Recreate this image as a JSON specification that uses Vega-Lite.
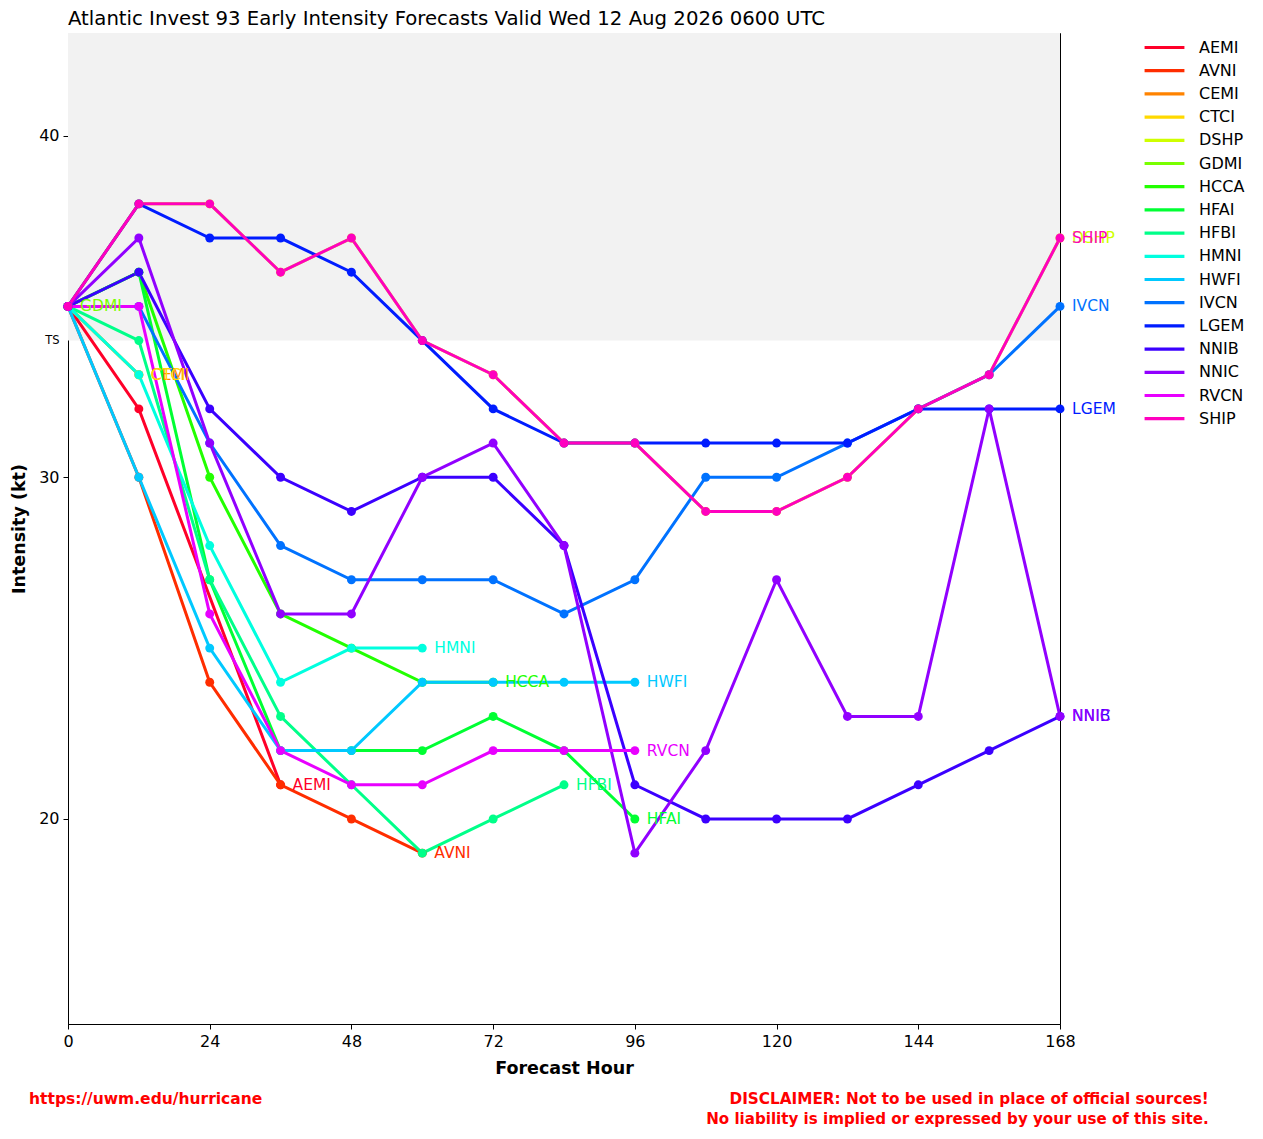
{
  "$schema": "https://vega.github.io/schema/vega-lite/v6.json",
  "width": 992,
  "height": 991,
  "autosize": "none",
  "padding": {"left": 68, "top": 33, "right": 203, "bottom": 115},
  "background": "white",
  "config": {
    "font": "DejaVu Sans",
    "view": {"stroke": "black", "strokeWidth": 1}
  },
  "title": {
    "text": "Atlantic Invest 93 Early Intensity Forecasts Valid Wed 12 Aug 2026 0600 UTC",
    "anchor": "start",
    "frame": "group",
    "fontSize": 19.7,
    "fontWeight": "normal",
    "color": "black",
    "offset": 4
  },
  "datasets": {
    "fcst": [
      {"model": "AEMI", "hour": 0, "kt": 35}, {"model": "AEMI", "hour": 12, "kt": 32}, {"model": "AEMI", "hour": 36, "kt": 21},
      {"model": "AVNI", "hour": 0, "kt": 35}, {"model": "AVNI", "hour": 12, "kt": 30}, {"model": "AVNI", "hour": 24, "kt": 24},
      {"model": "AVNI", "hour": 36, "kt": 21}, {"model": "AVNI", "hour": 48, "kt": 20}, {"model": "AVNI", "hour": 60, "kt": 19},
      {"model": "CEMI", "hour": 0, "kt": 35}, {"model": "CEMI", "hour": 12, "kt": 33},
      {"model": "CTCI", "hour": 0, "kt": 35}, {"model": "CTCI", "hour": 12, "kt": 33},
      {"model": "DSHP", "hour": 0, "kt": 35}, {"model": "DSHP", "hour": 12, "kt": 38}, {"model": "DSHP", "hour": 24, "kt": 38},
      {"model": "DSHP", "hour": 36, "kt": 36}, {"model": "DSHP", "hour": 48, "kt": 37}, {"model": "DSHP", "hour": 60, "kt": 34},
      {"model": "DSHP", "hour": 72, "kt": 33}, {"model": "DSHP", "hour": 84, "kt": 31}, {"model": "DSHP", "hour": 96, "kt": 31},
      {"model": "DSHP", "hour": 108, "kt": 29}, {"model": "DSHP", "hour": 120, "kt": 29}, {"model": "DSHP", "hour": 132, "kt": 30},
      {"model": "DSHP", "hour": 144, "kt": 32}, {"model": "DSHP", "hour": 156, "kt": 33}, {"model": "DSHP", "hour": 168, "kt": 37},
      {"model": "GDMI", "hour": 0, "kt": 35},
      {"model": "HCCA", "hour": 0, "kt": 35}, {"model": "HCCA", "hour": 12, "kt": 36}, {"model": "HCCA", "hour": 24, "kt": 30},
      {"model": "HCCA", "hour": 36, "kt": 26}, {"model": "HCCA", "hour": 48, "kt": 25}, {"model": "HCCA", "hour": 60, "kt": 24},
      {"model": "HCCA", "hour": 72, "kt": 24},
      {"model": "HFAI", "hour": 0, "kt": 35}, {"model": "HFAI", "hour": 12, "kt": 36}, {"model": "HFAI", "hour": 24, "kt": 27},
      {"model": "HFAI", "hour": 36, "kt": 22}, {"model": "HFAI", "hour": 48, "kt": 22}, {"model": "HFAI", "hour": 60, "kt": 22},
      {"model": "HFAI", "hour": 72, "kt": 23}, {"model": "HFAI", "hour": 84, "kt": 22}, {"model": "HFAI", "hour": 96, "kt": 20},
      {"model": "HFBI", "hour": 0, "kt": 35}, {"model": "HFBI", "hour": 12, "kt": 34}, {"model": "HFBI", "hour": 24, "kt": 27},
      {"model": "HFBI", "hour": 36, "kt": 23}, {"model": "HFBI", "hour": 48, "kt": 21}, {"model": "HFBI", "hour": 60, "kt": 19},
      {"model": "HFBI", "hour": 72, "kt": 20}, {"model": "HFBI", "hour": 84, "kt": 21},
      {"model": "HMNI", "hour": 0, "kt": 35}, {"model": "HMNI", "hour": 12, "kt": 33}, {"model": "HMNI", "hour": 24, "kt": 28},
      {"model": "HMNI", "hour": 36, "kt": 24}, {"model": "HMNI", "hour": 48, "kt": 25}, {"model": "HMNI", "hour": 60, "kt": 25},
      {"model": "HWFI", "hour": 0, "kt": 35}, {"model": "HWFI", "hour": 12, "kt": 30}, {"model": "HWFI", "hour": 24, "kt": 25},
      {"model": "HWFI", "hour": 36, "kt": 22}, {"model": "HWFI", "hour": 48, "kt": 22}, {"model": "HWFI", "hour": 60, "kt": 24},
      {"model": "HWFI", "hour": 72, "kt": 24}, {"model": "HWFI", "hour": 84, "kt": 24}, {"model": "HWFI", "hour": 96, "kt": 24},
      {"model": "IVCN", "hour": 0, "kt": 35}, {"model": "IVCN", "hour": 12, "kt": 35}, {"model": "IVCN", "hour": 24, "kt": 31},
      {"model": "IVCN", "hour": 36, "kt": 28}, {"model": "IVCN", "hour": 48, "kt": 27}, {"model": "IVCN", "hour": 60, "kt": 27},
      {"model": "IVCN", "hour": 72, "kt": 27}, {"model": "IVCN", "hour": 84, "kt": 26}, {"model": "IVCN", "hour": 96, "kt": 27},
      {"model": "IVCN", "hour": 108, "kt": 30}, {"model": "IVCN", "hour": 120, "kt": 30}, {"model": "IVCN", "hour": 132, "kt": 31},
      {"model": "IVCN", "hour": 144, "kt": 32}, {"model": "IVCN", "hour": 156, "kt": 33}, {"model": "IVCN", "hour": 168, "kt": 35},
      {"model": "LGEM", "hour": 0, "kt": 35}, {"model": "LGEM", "hour": 12, "kt": 38}, {"model": "LGEM", "hour": 24, "kt": 37},
      {"model": "LGEM", "hour": 36, "kt": 37}, {"model": "LGEM", "hour": 48, "kt": 36}, {"model": "LGEM", "hour": 60, "kt": 34},
      {"model": "LGEM", "hour": 72, "kt": 32}, {"model": "LGEM", "hour": 84, "kt": 31}, {"model": "LGEM", "hour": 96, "kt": 31},
      {"model": "LGEM", "hour": 108, "kt": 31}, {"model": "LGEM", "hour": 120, "kt": 31}, {"model": "LGEM", "hour": 132, "kt": 31},
      {"model": "LGEM", "hour": 144, "kt": 32}, {"model": "LGEM", "hour": 156, "kt": 32}, {"model": "LGEM", "hour": 168, "kt": 32},
      {"model": "NNIB", "hour": 0, "kt": 35}, {"model": "NNIB", "hour": 12, "kt": 36}, {"model": "NNIB", "hour": 24, "kt": 32},
      {"model": "NNIB", "hour": 36, "kt": 30}, {"model": "NNIB", "hour": 48, "kt": 29}, {"model": "NNIB", "hour": 60, "kt": 30},
      {"model": "NNIB", "hour": 72, "kt": 30}, {"model": "NNIB", "hour": 84, "kt": 28}, {"model": "NNIB", "hour": 96, "kt": 21},
      {"model": "NNIB", "hour": 108, "kt": 20}, {"model": "NNIB", "hour": 120, "kt": 20}, {"model": "NNIB", "hour": 132, "kt": 20},
      {"model": "NNIB", "hour": 144, "kt": 21}, {"model": "NNIB", "hour": 156, "kt": 22}, {"model": "NNIB", "hour": 168, "kt": 23},
      {"model": "NNIC", "hour": 0, "kt": 35}, {"model": "NNIC", "hour": 12, "kt": 37}, {"model": "NNIC", "hour": 24, "kt": 31},
      {"model": "NNIC", "hour": 36, "kt": 26}, {"model": "NNIC", "hour": 48, "kt": 26}, {"model": "NNIC", "hour": 60, "kt": 30},
      {"model": "NNIC", "hour": 72, "kt": 31}, {"model": "NNIC", "hour": 84, "kt": 28}, {"model": "NNIC", "hour": 96, "kt": 19},
      {"model": "NNIC", "hour": 108, "kt": 22}, {"model": "NNIC", "hour": 120, "kt": 27}, {"model": "NNIC", "hour": 132, "kt": 23},
      {"model": "NNIC", "hour": 144, "kt": 23}, {"model": "NNIC", "hour": 156, "kt": 32}, {"model": "NNIC", "hour": 168, "kt": 23},
      {"model": "RVCN", "hour": 0, "kt": 35}, {"model": "RVCN", "hour": 12, "kt": 35}, {"model": "RVCN", "hour": 24, "kt": 26},
      {"model": "RVCN", "hour": 36, "kt": 22}, {"model": "RVCN", "hour": 48, "kt": 21}, {"model": "RVCN", "hour": 60, "kt": 21},
      {"model": "RVCN", "hour": 72, "kt": 22}, {"model": "RVCN", "hour": 84, "kt": 22}, {"model": "RVCN", "hour": 96, "kt": 22},
      {"model": "SHIP", "hour": 0, "kt": 35}, {"model": "SHIP", "hour": 12, "kt": 38}, {"model": "SHIP", "hour": 24, "kt": 38},
      {"model": "SHIP", "hour": 36, "kt": 36}, {"model": "SHIP", "hour": 48, "kt": 37}, {"model": "SHIP", "hour": 60, "kt": 34},
      {"model": "SHIP", "hour": 72, "kt": 33}, {"model": "SHIP", "hour": 84, "kt": 31}, {"model": "SHIP", "hour": 96, "kt": 31},
      {"model": "SHIP", "hour": 108, "kt": 29}, {"model": "SHIP", "hour": 120, "kt": 29}, {"model": "SHIP", "hour": 132, "kt": 30},
      {"model": "SHIP", "hour": 144, "kt": 32}, {"model": "SHIP", "hour": 156, "kt": 33}, {"model": "SHIP", "hour": 168, "kt": 37}
    ],
    "band": [{"lo": 34, "hi": 43}]
  },
  "layer": [
    {
      "data": {"name": "band"},
      "mark": {"type": "rect", "fill": "#f2f2f2"},
      "encoding": {
        "x": {"datum": 0, "type": "quantitative", "scale": {"domain": [0, 168], "nice": false}},
        "x2": {"datum": 168},
        "y": {"field": "lo", "type": "quantitative", "scale": {"domain": [14, 43], "nice": false, "zero": false}},
        "y2": {"field": "hi"}
      }
    },
    {
      "data": {"name": "fcst"},
      "mark": {"type": "line", "strokeWidth": 3, "point": {"filled": true, "size": 80, "opacity": 1}},
      "encoding": {
        "x": {
          "field": "hour", "type": "quantitative",
          "scale": {"domain": [0, 168], "nice": false},
          "axis": {
            "values": [0, 24, 48, 72, 96, 120, 144, 168],
            "title": "Forecast Hour", "grid": false, "tickSize": 5, "labelFlush": false,
            "labelFontSize": 16, "labelColor": "black", "labelPadding": 4,
            "titleFontSize": 17.5, "titleFontWeight": "bold", "titleColor": "black", "titlePadding": 10,
            "domainColor": "black", "tickColor": "black"
          }
        },
        "y": {
          "field": "kt", "type": "quantitative",
          "scale": {"domain": [14, 43], "nice": false, "zero": false},
          "axis": {
            "values": [20, 30, 34, 40],
            "labelExpr": "datum.value == 34 ? 'TS' : datum.label",
            "labelFontSize": {"condition": {"test": "datum.value == 34", "value": 11.5}, "value": 16},
            "tickOpacity": {"condition": {"test": "datum.value == 34", "value": 0}, "value": 1},
            "title": "Intensity (kt)", "grid": false, "tickSize": 5,
            "labelColor": "black", "labelPadding": 4,
            "titleFontSize": 17.5, "titleFontWeight": "bold", "titleColor": "black", "titlePadding": 10,
            "domainColor": "black", "tickColor": "black"
          }
        },
        "color": {
          "field": "model", "type": "nominal",
          "scale": {
            "domain": ["AEMI", "AVNI", "CEMI", "CTCI", "DSHP", "GDMI", "HCCA", "HFAI", "HFBI", "HMNI", "HWFI", "IVCN", "LGEM", "NNIB", "NNIC", "RVCN", "SHIP"],
            "range": ["#ff0029", "#ff2d00", "#ff8300", "#ffd900", "#cfff00", "#79ff00", "#22ff00", "#00ff33", "#00ff89", "#00ffdf", "#00c9ff", "#0072ff", "#001cff", "#3b00ff", "#9100ff", "#e800ff", "#ff00bf"]
          },
          "legend": {
            "orient": "none", "legendX": 1086, "legendY": 4,
            "title": null, "symbolType": "M-2.3,0H2.3", "symbolSize": 300, "symbolStrokeWidth": 3.2,
            "labelFontSize": 16, "labelColor": "black", "labelOffset": 24, "rowPadding": 4.2
          }
        }
      }
    },
    {
      "data": {"name": "fcst"},
      "transform": [
        {"joinaggregate": [{"op": "max", "field": "hour", "as": "lasth"}], "groupby": ["model"]},
        {"filter": "datum.hour == datum.lasth"}
      ],
      "mark": {"type": "text", "align": "left", "baseline": "middle", "dx": 12, "fontSize": 15.5},
      "encoding": {
        "x": {"field": "hour", "type": "quantitative"},
        "y": {"field": "kt", "type": "quantitative"},
        "text": {"field": "model"},
        "color": {"field": "model", "type": "nominal"}
      }
    },
    {
      "data": {"values": [{}]},
      "mark": {"type": "text", "align": "left", "baseline": "middle", "fontSize": 15.5, "fontWeight": "bold", "color": "#ff0000"},
      "encoding": {
        "x": {"datum": -6.6, "type": "quantitative"},
        "y": {"datum": 11.8, "type": "quantitative"},
        "text": {"value": "https://uwm.edu/hurricane"}
      }
    },
    {
      "data": {"values": [{}]},
      "mark": {"type": "text", "align": "right", "baseline": "middle", "fontSize": 15.25, "fontWeight": "bold", "color": "#ff0000"},
      "encoding": {
        "x": {"datum": 193.2, "type": "quantitative"},
        "y": {"datum": 11.8, "type": "quantitative"},
        "text": {"value": "DISCLAIMER: Not to be used in place of official sources!"}
      }
    },
    {
      "data": {"values": [{}]},
      "mark": {"type": "text", "align": "right", "baseline": "middle", "fontSize": 15.1, "fontWeight": "bold", "color": "#ff0000"},
      "encoding": {
        "x": {"datum": 193.2, "type": "quantitative"},
        "y": {"datum": 11.22, "type": "quantitative"},
        "text": {"value": "No liability is implied or expressed by your use of this site."}
      }
    }
  ]
}
